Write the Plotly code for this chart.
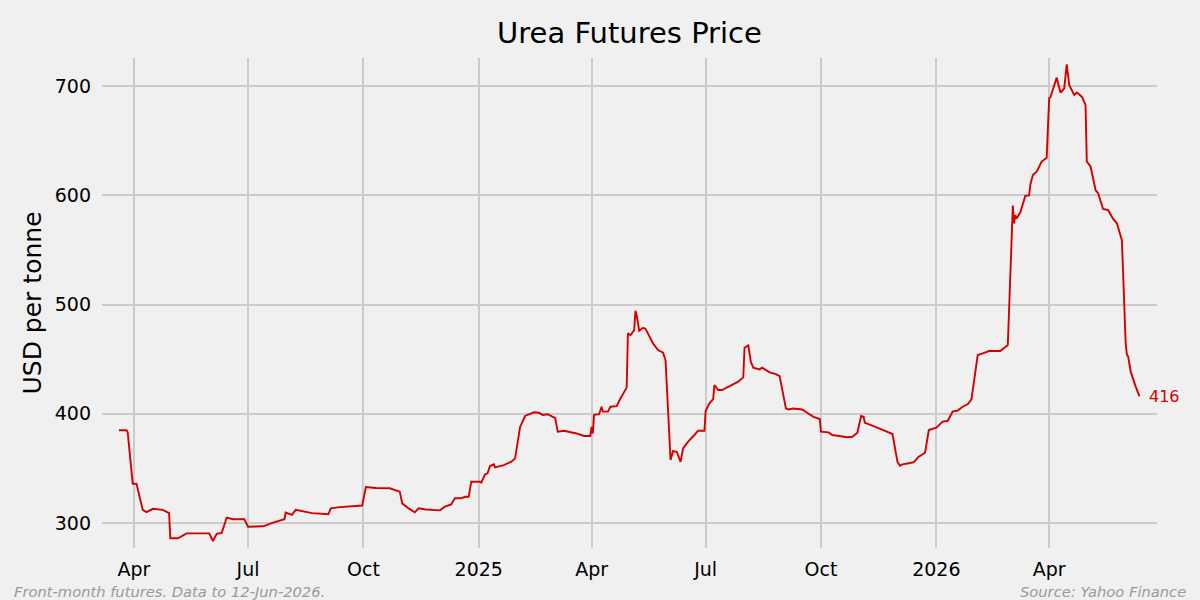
#!/usr/bin/python3

"""
Urea futures price, front-month, Mar 2024 to Jun 2026
"""

import plotly.graph_objects as go

########################
# Data
########################
dates = [
    "2024-03-20", "2024-03-26", "2024-03-27", "2024-03-31", "2024-04-03", "2024-04-08",
    "2024-04-11", "2024-04-16", "2024-04-24", "2024-04-29", "2024-04-30", "2024-05-06",
    "2024-05-13", "2024-05-31", "2024-06-03", "2024-06-06", "2024-06-10", "2024-06-14",
    "2024-06-19", "2024-06-28", "2024-07-01", "2024-07-13", "2024-07-21", "2024-07-30",
    "2024-07-31", "2024-08-05", "2024-08-08", "2024-08-21", "2024-09-03", "2024-09-05",
    "2024-09-12", "2024-09-30", "2024-10-03", "2024-10-11", "2024-10-22", "2024-10-30",
    "2024-11-01", "2024-11-06", "2024-11-11", "2024-11-14", "2024-11-20", "2024-12-01",
    "2024-12-05", "2024-12-10", "2024-12-13", "2024-12-18", "2024-12-21", "2024-12-24",
    "2024-12-26", "2025-01-02", "2025-01-03", "2025-01-06", "2025-01-08", "2025-01-10",
    "2025-01-13", "2025-01-14", "2025-01-21", "2025-01-27", "2025-01-30", "2025-02-03",
    "2025-02-07", "2025-02-14", "2025-02-18", "2025-02-21", "2025-02-25", "2025-03-03",
    "2025-03-05", "2025-03-10", "2025-03-20", "2025-03-26", "2025-03-31", "2025-04-01",
    "2025-04-02", "2025-04-03", "2025-04-07", "2025-04-09", "2025-04-10", "2025-04-14",
    "2025-04-16", "2025-04-21", "2025-04-24", "2025-04-29", "2025-04-30", "2025-05-02",
    "2025-05-05", "2025-05-06", "2025-05-07", "2025-05-09", "2025-05-12", "2025-05-14",
    "2025-05-20", "2025-05-24", "2025-05-28", "2025-05-30", "2025-06-03", "2025-06-05",
    "2025-06-08", "2025-06-11", "2025-06-13", "2025-06-17", "2025-06-22", "2025-06-25",
    "2025-06-30", "2025-07-01", "2025-07-04", "2025-07-07", "2025-07-08", "2025-07-11",
    "2025-07-14", "2025-07-21", "2025-07-27", "2025-07-31", "2025-08-01", "2025-08-04",
    "2025-08-06", "2025-08-08", "2025-08-13", "2025-08-15", "2025-08-21", "2025-08-26",
    "2025-08-29", "2025-09-03", "2025-09-05", "2025-09-09", "2025-09-16", "2025-09-20",
    "2025-09-25", "2025-09-30", "2025-10-01", "2025-10-07", "2025-10-10", "2025-10-22",
    "2025-10-26", "2025-10-30", "2025-11-02", "2025-11-04", "2025-11-05", "2025-11-10",
    "2025-11-17", "2025-11-22", "2025-11-27", "2025-12-01", "2025-12-03", "2025-12-05",
    "2025-12-10", "2025-12-14", "2025-12-18", "2025-12-23", "2025-12-26", "2025-12-29",
    "2026-01-01", "2026-01-06", "2026-01-10", "2026-01-14", "2026-01-18", "2026-01-22",
    "2026-01-26", "2026-01-29", "2026-02-03", "2026-02-07", "2026-02-12", "2026-02-21",
    "2026-02-24", "2026-02-27", "2026-03-03", "2026-03-04", "2026-03-05", "2026-03-06",
    "2026-03-09", "2026-03-11", "2026-03-13", "2026-03-16", "2026-03-17", "2026-03-19",
    "2026-03-22", "2026-03-26", "2026-03-30", "2026-04-01", "2026-04-02", "2026-04-07",
    "2026-04-10", "2026-04-13", "2026-04-15", "2026-04-17", "2026-04-21", "2026-04-23",
    "2026-04-27", "2026-04-30", "2026-05-01", "2026-05-04", "2026-05-08", "2026-05-10",
    "2026-05-14", "2026-05-18", "2026-05-22", "2026-05-25", "2026-05-29", "2026-06-01",
    "2026-06-02", "2026-06-03", "2026-06-05", "2026-06-09", "2026-06-12",
]

prices = [
    385, 385, 383, 336, 336, 312,
    310, 313, 312, 309, 286, 286,
    290.5, 290.5, 283.5, 290, 291, 305,
    303.5, 303.5, 296.6, 297, 300.3, 303.5,
    309.5, 307.5, 312, 309, 308, 313.5,
    314.5, 316, 333, 332, 331.8, 328.7,
    318, 313.4, 309.8, 313.4, 312.4, 311.6,
    315, 317, 322.6, 322.6, 324, 324,
    337.8, 337.8, 337, 344.6, 345.5, 352.2,
    353.7, 351, 353, 356.2, 359.2, 388,
    398, 401.4, 401, 399, 399.6, 396,
    383.6, 384.5, 382, 379.7, 379.7, 388,
    382, 399, 399.6, 406.5, 402, 402,
    406.5, 407, 414, 424, 473.7, 472,
    476.7, 494.4, 490, 476, 478.8, 478,
    464.5, 458.4, 456, 449, 357.7, 366,
    365, 356, 368.4, 374.5, 380.6, 384.5,
    384.5, 402.8, 409.6, 413.5, 426.4, 421.8,
    421.8, 425.7, 429.4, 433.4, 460.5, 462.7,
    447.7, 442.2, 440.7, 442.2, 438, 436.4,
    434.6, 405, 404, 404.8, 404, 401,
    397.3, 395.2, 383.6, 383, 380.6, 378.5,
    379, 382.7, 398, 397.3, 391.8, 389.7,
    386, 384, 381.5, 356, 352.5, 353.7,
    354.7, 355.7, 360.7, 364.4, 385.2, 386.5,
    387.3, 392.8, 393.4, 402, 403, 406.5,
    408.7, 413.3, 453.8, 455.4, 457.5, 457.5,
    460.5, 463, 590.7, 574.5, 582, 579,
    584.6, 591.3, 599.8, 600, 610, 618.8,
    621.8, 631, 634.6, 689, 690, 707.9,
    694.3, 698, 720, 701, 692, 694.3,
    690.5, 682.9, 631, 626.5, 605, 602,
    587.6, 586.5, 578.5, 574.5, 559, 464.6,
    454, 452.5, 438.6, 424.9, 416,
]

tick_dates = ["2024-04-01", "2024-07-01", "2024-10-01", "2025-01-01", "2025-04-01",
              "2025-07-01", "2025-10-01", "2026-01-01", "2026-04-01"]
tick_labels = ["Apr", "Jul", "Oct", "2025", "Apr", "Jul", "Oct", "2026", "Apr"]
y_ticks = [300, 400, 500, 600, 700]

### style
bg = "#f0f0f0"
grid = "#cbcbcb"
red = "#d40000"
font = "DejaVu Sans"

fig = go.Figure()
fig.add_trace(go.Scatter(x=dates, y=prices, mode="lines",
                         line=dict(color=red, width=1.9), showlegend=False))

### last value label
fig.add_annotation(x=dates[-1], y=prices[-1], text=f"{prices[-1]:.0f}",
                   showarrow=False, xanchor="left", yanchor="middle", xshift=8,
                   font=dict(family=font, size=16, color=red))

### footers
fig.add_annotation(x=-0.085, y=-0.088, xref="paper", yref="paper",
                   text="Front-month futures. Data to 12-Jun-2026.",
                   showarrow=False, xanchor="left", yanchor="middle",
                   font=dict(family=font, size=14.7, color="#999999", style="italic"))
fig.add_annotation(x=1.029, y=-0.088, xref="paper", yref="paper",
                   text="Source: Yahoo Finance",
                   showarrow=False, xanchor="right", yanchor="middle",
                   font=dict(family=font, size=14.7, color="#999999", style="italic"))

fig.update_layout(
    width=1200, height=600, autosize=False,
    paper_bgcolor=bg, plot_bgcolor=bg,
    margin=dict(l=102, r=43, t=58, b=52),
    title=dict(text="Urea Futures Price", x=0.5, xref="paper",
               y=1 - 33 / 600, yanchor="middle",
               font=dict(family=font, size=29, color="#000000")),
    font=dict(family=font, color="#000000"),
)
fig.update_xaxes(type="date", range=["2024-03-06 12:00", "2026-06-26"],
                 tickvals=tick_dates, ticktext=tick_labels,
                 tickfont=dict(family=font, size=19, color="#000000"),
                 showgrid=True, gridcolor=grid, gridwidth=1.5,
                 zeroline=False, showline=False, ticks="", ticklabelstandoff=8)
fig.update_yaxes(range=[277.1, 725.9], tickvals=y_ticks,
                 tickfont=dict(family=font, size=19, color="#000000"),
                 showgrid=True, gridcolor=grid, gridwidth=1.5,
                 zeroline=False, showline=False, ticks="", ticklabelstandoff=10,
                 title=dict(text="USD per tonne", standoff=5,
                            font=dict(family=font, size=25, color="#000000")))

# drop the page margin so the 1200x600 figure sits flush in the window
fig.write_html("out.html", config={"displayModeBar": False},
               post_script="document.body.style.margin='0';")
